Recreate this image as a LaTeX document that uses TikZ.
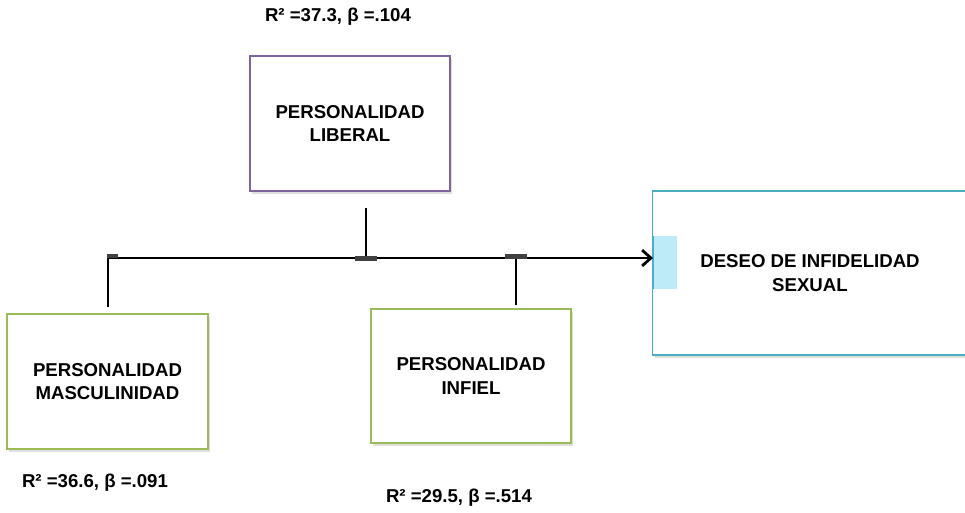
\documentclass[tikz,border=0pt]{standalone}
\usepackage{fontspec}
\setmainfont{Liberation Sans}
\usetikzlibrary{arrows.meta,shadows}
\definecolor{purpleline}{HTML}{8064A2}
\definecolor{greenline}{HTML}{9BBB59}
\definecolor{blueline}{HTML}{4BACC6}
\definecolor{cyanstrip}{HTML}{BDEBF7}

\begin{document}
\begin{tikzpicture}[x=.02cm,y=-.02cm,
  every node/.style={font=\bfseries\fontsize{10.6}{13.5}\selectfont,align=center},
  box/.style={draw,line width=.8pt,fill=white,inner sep=0pt,
    drop shadow={shadow xshift=1.2pt,shadow yshift=-1.5pt,opacity=.25}},
  bus/.style={line width=1.6pt,black},
  stub/.style={line width=2.8pt,black!75}]
\useasboundingbox (0,0) rectangle (965,512);
\node[box,draw=purpleline,minimum width=4cm,minimum height=2.7cm] (lib) at (350,123.5) {PERSONALIDAD\\LIBERAL};
\node[box,draw=greenline,minimum width=4.02cm,minimum height=2.7cm] (masc) at (107.5,381.5) {PERSONALIDAD\\MASCULINIDAD};
\node[box,draw=greenline,minimum width=4cm,minimum height=2.68cm] (infiel) at (471,376) {PERSONALIDAD\\INFIEL};
\node[box,draw=blueline,minimum width=6.3cm,minimum height=3.28cm] (deseo) at (810,273) {DESEO DE INFIDELIDAD\\SEXUAL};
\fill[cyanstrip] (653,236) rectangle (677,289);
\draw[blueline,line width=.8pt] (653,236) -- (653,289);
\node (r1) at (338,17) {R² =37.3, β =.104};
\node (r2) at (95,483) {R² =36.6, β =.091};
\node (r3) at (459,498) {R² =29.5, β =.514};
% connectors
\coordinate (m0) at (108,307);
\coordinate (m1) at (108,258);
\coordinate (l0) at (366,208);
\coordinate (l1) at (366,258);
\coordinate (i0) at (516,305);
\coordinate (i1) at (516,258);
\coordinate (d0) at (653,258);
\draw[bus,-{Straight Barb[length=5pt,width=9pt,line width=1.6pt]}] (m0) -- (m1) -- (d0);
\draw[bus] (l0) -- (l1);
\draw[bus] (i0) -- (i1);
\draw[stub] (107,256) -- (118,256);
\draw[stub] (355,258.5) -- (377,258.5);
\draw[stub] (505,256.5) -- (527,256.5);
\end{tikzpicture}
\end{document}
